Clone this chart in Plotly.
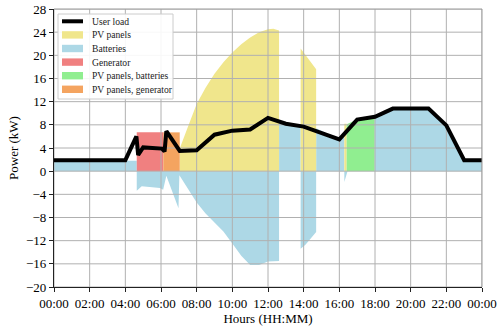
import plotly.graph_objects as go

# ---------------- data (hours, kW) ----------------
load_h = [0, 4.0, 4.62, 4.72, 5.0, 6.05, 6.2, 6.3, 7.05, 8.0, 9.0, 10.0, 11.0, 12.0,
          13.0, 14.0, 16.0, 17.0, 18.0, 19.0, 21.0, 22.0, 23.0, 24.0]
load_kw = [1.9, 1.9, 6.0, 2.8, 4.1, 3.9, 3.4, 6.9, 3.5, 3.6, 6.3, 7.0, 7.2, 9.2,
           8.2, 7.7, 5.5, 8.9, 9.4, 10.8, 10.8, 7.9, 1.9, 1.9]

pv_h = [7.05, 7.05, 7.5, 8.0, 8.5, 9.0, 9.5, 10.0, 10.5, 11.0, 11.5, 12.0, 12.3, 12.62, 12.62,
        13.83, 13.83, 14.7, 14.7, 16.28, 16.28, 16.41, 16.41]
pv_kw = [0, 3.9, 7.6, 11.6, 14.4, 16.8, 18.8, 20.5, 21.9, 23.1, 24.0, 24.5, 24.6, 24.3, 0,
         0, 21.2, 17.6, 0, 0, 8.2, 8.2, 0]

bat_h = [0, 4.64, 4.64, 4.92, 5.94, 6.12, 6.30, 6.98, 7.03, 7.5, 8.0, 8.5, 9.0, 9.5, 10.0,
         10.5, 11.0, 11.5, 12.0, 12.62, 12.62, 13.0, 13.83, 13.83, 14.1, 14.7, 14.7, 16.0,
         16.28, 16.28, 16.45, 16.45, 17.98, 17.98, 19.0, 21.0, 22.0, 23.0, 24.0]
bat_kw = [1.8, 1.8, -3.4, -2.6, -2.9, -3.2, -0.8, -6.4, -0.7, -2.9, -5.4, -7.3, -8.9, -10.4, -12.5,
          -14.6, -16.2, -16.2, -15.6, -15.5, 8.6, 8.2, 7.75, -13.4, -12.7, -10.5, 7.4, 5.5,
          6.4, -1.85, -0.1, 0, 0, 9.4, 10.8, 10.8, 7.9, 1.9, 1.9]

gen_h = [4.64, 6.13]
gen_kw = [6.7, 6.7]

pvgen_h = [6.13, 7.05]
pvgen_kw = [6.7, 6.7]

pvbat_h = [16.41, 17.0, 17.98]
pvbat_kw = [8.1, 8.9, 9.4]

x_ticks = list(range(0, 25, 2))
x_labels = ["00:00", "02:00", "04:00", "06:00", "08:00", "10:00", "12:00",
            "14:00", "16:00", "18:00", "20:00", "22:00", "00:00"]
y_ticks = list(range(-20, 29, 4))

labels = ["User load", "PV panels", "Batteries", "Generator",
          "PV panels, batteries", "PV panels, generator"]
colors = {"PV panels": "#F0E68C", "Batteries": "#ADD8E6", "Generator": "#F08080",
          "PV panels, batteries": "#90EE90", "PV panels, generator": "#F4A460"}

FONT = "Liberation Serif"
W, H = 497, 331
L, R, T, B = 54, 15, 9, 44


def fx(p):
    return (p - L) / (W - L - R)


def fy(p):
    return 1 - (p - T) / (H - T - B)


fig = go.Figure()


def area(xs, ys, name):
    fig.add_trace(go.Scatter(x=xs, y=ys, mode="lines", fill="tozeroy",
                             fillcolor=colors[name], line=dict(width=0, color=colors[name]),
                             name=name, showlegend=False, hoverinfo="skip"))


area(bat_h, bat_kw, "Batteries")
area(pv_h, pv_kw, "PV panels")
area(gen_h, gen_kw, "Generator")
area(pvgen_h, pvgen_kw, "PV panels, generator")
area(pvbat_h, pvbat_kw, "PV panels, batteries")

# grid (above the fills, below the load line, like the original)
gx, gy = [], []
for t in x_ticks:
    gx += [t, t, None]
    gy += [y_ticks[0], y_ticks[-1], None]
for v in y_ticks:
    gx += [x_ticks[0], x_ticks[-1], None]
    gy += [v, v, None]
fig.add_trace(go.Scatter(x=gx, y=gy, mode="lines", line=dict(color="#b0b0b0", width=1),
                         showlegend=False, hoverinfo="skip"))

fig.add_trace(go.Scatter(x=load_h, y=load_kw, mode="lines", name="User load",
                         line=dict(color="black", width=4), showlegend=False))

shapes = []
# top / right frame
shapes.append(dict(type="line", xref="paper", yref="paper", x0=0, x1=1, y0=1, y1=1,
                   line=dict(color="#999999", width=1), layer="above"))
shapes.append(dict(type="line", xref="paper", yref="paper", x0=1, x1=1, y0=0, y1=1,
                   line=dict(color="#999999", width=1), layer="above"))

# legend box
shapes.append(dict(type="rect", xref="paper", yref="paper", x0=fx(58), x1=fx(173),
                   y0=fy(99), y1=fy(14), fillcolor="rgba(255,255,255,0.9)",
                   line=dict(color="#cccccc", width=1), layer="above"))
annotations = []
row_y = [21.3, 34.9, 48.5, 62.1, 75.7, 89.3]
for lab, ry in zip(labels, row_y):
    if lab == "User load":
        shapes.append(dict(type="line", xref="paper", yref="paper", x0=fx(62), x1=fx(83),
                           y0=fy(ry), y1=fy(ry), line=dict(color="black", width=4), layer="above"))
    else:
        shapes.append(dict(type="rect", xref="paper", yref="paper", x0=fx(62), x1=fx(83),
                           y0=fy(ry + 3.7), y1=fy(ry - 3.7), fillcolor=colors[lab],
                           line=dict(width=0), layer="above"))
    annotations.append(dict(text=lab, xref="paper", yref="paper", x=fx(90), y=fy(ry),
                            xanchor="left", yanchor="middle", showarrow=False,
                            font=dict(family=FONT, size=9.6, color="#222222")))

axis_common = dict(showgrid=False, zeroline=False, ticks="outside", ticklen=4,
                   tickcolor="#222222", tickwidth=1, showline=True, linecolor="#222222",
                   linewidth=1.3, automargin=False,
                   tickfont=dict(family=FONT, size=13, color="black"))

fig.update_layout(
    width=W, height=H, margin=dict(l=L, r=R, t=T, b=B),
    paper_bgcolor="white", plot_bgcolor="white", template="none",
    font=dict(family=FONT),
    showlegend=False, shapes=shapes, annotations=annotations,
    xaxis=dict(range=[0, 24], tickvals=x_ticks, ticktext=x_labels,
               title=dict(text="Hours (HH:MM)", font=dict(family=FONT, size=13, color="black"),
                          standoff=2), **axis_common),
    yaxis=dict(range=[-20, 28], tickvals=y_ticks,
               title=dict(text="Power (kW)", font=dict(family=FONT, size=13, color="black"),
                          standoff=4), **axis_common),
)

fig.write_html("out.html", config={"displayModeBar": False},
               post_script="document.body.style.margin='0px';document.body.style.padding='0px';")
